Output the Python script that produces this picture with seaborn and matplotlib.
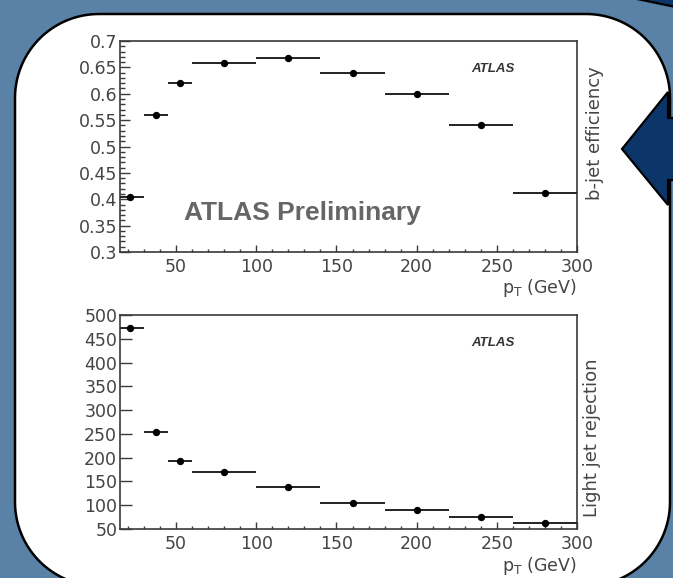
import numpy as np
import matplotlib
matplotlib.use("Agg")
import matplotlib.pyplot as plt
import seaborn as sns
from matplotlib.patches import Polygon
from matplotlib.ticker import MultipleLocator

# ---------------- data ----------------
bin_lo = [15, 30, 45, 60, 100, 140, 180, 220, 260]
bin_hi = [30, 45, 60, 100, 140, 180, 220, 260, 300]
pt_mean = [21, 37.5, 52.5, 80, 120, 160, 200, 240, 280]
b_eff = [0.405, 0.560, 0.621, 0.658, 0.668, 0.639, 0.600, 0.540, 0.412]
light_rej = [473, 253, 193, 170, 138, 104, 91, 76, 63]

eff_ticks = [0.3, 0.35, 0.4, 0.45, 0.5, 0.55, 0.6, 0.65, 0.7]
eff_ticklabels = ["0.3", "0.35", "0.4", "0.45", "0.5", "0.55", "0.6", "0.65", "0.7"]
rej_ticks = [50, 100, 150, 200, 250, 300, 350, 400, 450, 500]
pt_ticks = [50, 100, 150, 200, 250, 300]

sns.set_theme(style="white")
plt.rcParams['font.family'] = ['DejaVu Sans']

W, H = 673, 578
BG = "#5a81a6"
NAVY = "#0c3569"
fig = plt.figure(figsize=(W / 100, H / 100), dpi=100, facecolor=BG)

# ---------------- decorative slide background ----------------
bg = fig.add_axes([0, 0, 1, 1], zorder=0)
bg.set_xlim(0, W)
bg.set_ylim(H, 0)
bg.axis("off")


def rounded_rect(x0, y0, x1, y1, r):
    pts = []
    corners = [((x1 - r, y0 + r), -90, 0), ((x1 - r, y1 - r), 0, 90),
               ((x0 + r, y1 - r), 90, 180), ((x0 + r, y0 + r), 180, 270)]
    for (cx, cy), a0, a1 in corners:
        t = np.radians(np.linspace(a0, a1, 30))
        pts += list(zip(cx + r * np.cos(t), cy + r * np.sin(t)))
    return pts


bg.add_patch(Polygon(rounded_rect(15, 14, 670, 586, 84), closed=True,
                     facecolor="white", edgecolor="black", lw=1.8, zorder=1))
# big left-pointing arrow on the right edge
arrow = [(622, 149), (668, 92), (668, 118), (690, 118), (690, 180),
         (668, 180), (668, 205)]
bg.add_patch(Polygon(arrow, closed=True, facecolor=NAVY, edgecolor="black",
                     lw=1.6, zorder=2))
bg.add_patch(Polygon([(618, -5), (690, -5), (690, 10)], closed=True,
                     facecolor=NAVY, edgecolor="black", lw=1.6, zorder=2))

TXT = "#444444"
TICKFS = 12.5


def style_axes(ax):
    for s in ax.spines.values():
        s.set_color("#3a3a3a")
        s.set_linewidth(1.2)
        s.set_visible(True)
    ax.tick_params(axis="both", which="both", direction="in", colors="#3a3a3a",
                   labelcolor=TXT, labelsize=TICKFS, top=False, right=False,
                   left=True, bottom=True)
    ax.tick_params(axis="x", which="major", length=5, width=1.0, pad=4)
    ax.tick_params(axis="x", which="minor", length=2.5, width=1.0)
    ax.tick_params(axis="y", which="major", width=1.0, pad=2)
    ax.set_xlim(15, 300)
    ax.set_xticks(pt_ticks)
    ax.xaxis.set_minor_locator(MultipleLocator(10))
    ax.set_xlabel("")
    ax.set_ylabel("")
    ax.set_facecolor("white")


def draw(ax, yvals):
    ax.hlines(yvals, bin_lo, bin_hi, color="#222222", lw=1.4, zorder=3)
    sns.scatterplot(x=pt_mean, y=yvals, ax=ax, color="black", s=28,
                    edgecolor="black", linewidth=0, zorder=4, legend=False)


LABFS = 12.5

# ---------------- top: b-jet efficiency ----------------
ax1 = fig.add_axes([120 / W, 1 - 252 / H, 457 / W, 211 / H], zorder=3)
draw(ax1, b_eff)
style_axes(ax1)
ax1.set_ylim(0.3, 0.7)
ax1.set_yticks(eff_ticks)
ax1.set_yticklabels(eff_ticklabels)
ax1.yaxis.set_minor_locator(MultipleLocator(0.01))
ax1.tick_params(axis="y", which="major", length=7)
ax1.tick_params(axis="y", which="minor", length=3.5, width=1.0)
ax1.text(1.0, -0.172, r"p$_\mathregular{T}$ (GeV)", transform=ax1.transAxes,
         ha="right", va="center", fontsize=LABFS, color=TXT)
ax1.text(1.039, 0.564, "b-jet efficiency", transform=ax1.transAxes,
         rotation=90, ha="center", va="center", fontsize=13, color=TXT)
ax1.text(0.816, 0.867, "ATLAS", transform=ax1.transAxes, ha="center",
         va="center", fontsize=9.5, fontweight="bold", style="italic",
         color="#333333", family="Liberation Sans")
ax1.text(0.398, 0.185, "ATLAS Preliminary", transform=ax1.transAxes,
         ha="center", va="center", fontsize=19, fontweight="bold",
         color="#666666", family="Liberation Sans")

# ---------------- bottom: light jet rejection ----------------
ax2 = fig.add_axes([120 / W, 1 - 529 / H, 457 / W, 214 / H], zorder=3)
draw(ax2, light_rej)
style_axes(ax2)
ax2.set_ylim(50, 500)
ax2.set_yticks(rej_ticks)
ax2.tick_params(axis="y", which="major", length=8.5)
ax2.tick_params(axis="y", which="minor", length=0)
ax2.text(1.0, -0.172, r"p$_\mathregular{T}$ (GeV)", transform=ax2.transAxes,
         ha="right", va="center", fontsize=LABFS, color=TXT)
ax2.text(1.033, 0.425, "Light jet rejection", transform=ax2.transAxes,
         rotation=90, ha="center", va="center", fontsize=13, color=TXT)
ax2.text(0.816, 0.869, "ATLAS", transform=ax2.transAxes, ha="center",
         va="center", fontsize=9.5, fontweight="bold", style="italic",
         color="#333333", family="Liberation Sans")

fig.savefig("out.png", dpi=100, facecolor=BG)
